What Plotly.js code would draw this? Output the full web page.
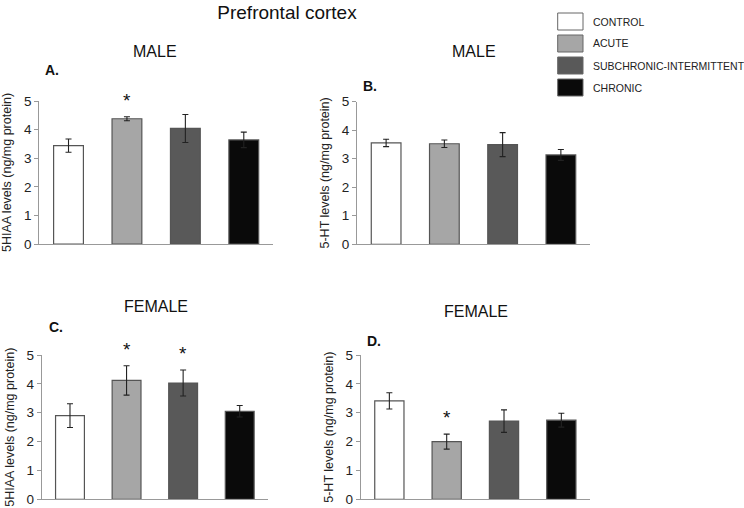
<!DOCTYPE html>
<html>
<head>
<meta charset="utf-8">
<script src="https://cdn.plot.ly/plotly-3.0.1.min.js"></script>
<style>html,body{margin:0;padding:0;background:#fff;}#chart{width:744px;height:508px;}</style>
</head>
<body>
<div id="chart"></div>
<script>
// ---- data ----
const categories = ['CONTROL', 'ACUTE', 'SUBCHRONIC-INTERMITTENT', 'CHRONIC'];
const barColors = ['#ffffff', '#a6a6a6', '#595959', '#0a0a0a'];

const maleHIAA = [3.44, 4.38, 4.04, 3.64];
const maleHIAAErr = [0.23, 0.07, 0.49, 0.27];
const maleHIAASig = [false, true, false, false];

const maleHT = [3.55, 3.52, 3.49, 3.13];
const maleHTErr = [0.13, 0.13, 0.42, 0.19];
const maleHTSig = [false, false, false, false];

const femaleHIAA = [2.90, 4.12, 4.03, 3.05];
const femaleHIAAErr = [0.41, 0.51, 0.45, 0.20];
const femaleHIAASig = [false, true, true, false];

const femaleHT = [3.41, 2.00, 2.71, 2.74];
const femaleHTErr = [0.28, 0.26, 0.39, 0.24];
const femaleHTSig = [false, true, false, false];

const yTitleHIAA = '5HIAA levels (ng/mg protein)';
const yTitleHT = '5-HT levels (ng/mg protein)';
const mainTitle = 'Prefrontal cortex';

// ---- layout helpers ----
const W = 744, H = 508;
const px = v => v / W;
const py = v => 1 - v / H;

const panels = [
  {vals: maleHIAA, err: maleHIAAErr, sig: maleHIAASig, ax: '', xd: [39.3, 273], yd: [244, 101], ytitle: yTitleHIAA,
   head: 'MALE', headPos: [155, 51], letter: 'A.', letterPos: [52, 70]},
  {vals: maleHT, err: maleHTErr, sig: maleHTSig, ax: '2', xd: [357, 590], yd: [244.3, 101.5], ytitle: yTitleHT,
   head: 'MALE', headPos: [474, 51], letter: 'B.', letterPos: [370, 86]},
  {vals: femaleHIAA, err: femaleHIAAErr, sig: femaleHIAASig, ax: '3', xd: [41.7, 268], yd: [499.3, 355], ytitle: yTitleHIAA,
   head: 'FEMALE', headPos: [156, 306], letter: 'C.', letterPos: [56, 327]},
  {vals: femaleHT, err: femaleHTErr, sig: femaleHTSig, ax: '4', xd: [360.7, 590], yd: [499.3, 355], ytitle: yTitleHT,
   head: 'FEMALE', headPos: [476, 311], letter: 'D.', letterPos: [374, 341]}
];

const fontFam = 'Liberation Sans, Arial, sans-serif';
const data = [];
const annotations = [];
const shapes = [];
const layout = {
  width: W, height: H,
  margin: {l: 0, r: 0, t: 0, b: 0},
  paper_bgcolor: '#ffffff', plot_bgcolor: '#ffffff',
  showlegend: false,
  bargap: 0.49,
  font: {family: fontFam, color: '#222'},
  title: {text: mainTitle, x: px(287), y: py(12), xanchor: 'center', yanchor: 'middle',
          font: {family: fontFam, size: 19, color: '#111'}}
};

panels.forEach(p => {
  data.push({
    type: 'bar',
    x: categories,
    y: p.vals,
    xaxis: 'x' + p.ax, yaxis: 'y' + p.ax,
    marker: {color: barColors, line: {color: '#555', width: 1.2}},
    error_y: {type: 'data', array: p.err, visible: true, color: '#222', thickness: 1.1, width: 3},
    hoverinfo: 'x+y'
  });
  layout['xaxis' + p.ax] = {
    domain: [px(p.xd[0]), px(p.xd[1])],
    anchor: 'y' + p.ax,
    showline: true, linecolor: '#999', linewidth: 1,
    showticklabels: false, ticks: '', showgrid: false, zeroline: false,
    range: [-0.5, 3.5]
  };
  layout['yaxis' + p.ax] = {
    domain: [py(p.yd[0]), py(p.yd[1])],
    anchor: 'x' + p.ax,
    range: [0, 5], dtick: 1, tick0: 0,
    showline: true, linecolor: '#999', linewidth: 1,
    ticks: 'outside', ticklen: 4, tickcolor: '#999',
    tickfont: {family: fontFam, size: 13.5, color: '#222'},
    showgrid: false, zeroline: false,
    title: {text: p.ytitle, font: {family: fontFam, size: 12.5, color: '#222'}, standoff: 9}
  };
  annotations.push({xref: 'paper', yref: 'paper', x: px(p.headPos[0]), y: py(p.headPos[1]),
    xanchor: 'center', yanchor: 'middle', showarrow: false, text: p.head,
    font: {family: fontFam, size: 16, color: '#111'}});
  annotations.push({xref: 'paper', yref: 'paper', x: px(p.letterPos[0]), y: py(p.letterPos[1]),
    xanchor: 'center', yanchor: 'middle', showarrow: false, text: '<b>' + p.letter + '</b>',
    font: {family: fontFam, size: 14, color: '#111'}});
  p.sig.forEach((s, i) => {
    if (s) {
      annotations.push({xref: 'x' + p.ax, yref: 'y' + p.ax, x: categories[i], y: p.vals[i] + p.err[i],
        xanchor: 'center', yanchor: 'bottom', yshift: 4, showarrow: false, text: '*',
        font: {family: fontFam, size: 19, color: '#111'}});
    }
  });
});

// custom legend
categories.forEach((c, i) => {
  const top = 13 + i * 22;
  shapes.push({type: 'rect', xref: 'paper', yref: 'paper',
    x0: px(557.7), x1: px(583), y0: py(top + 17), y1: py(top),
    fillcolor: barColors[i], line: {color: '#666', width: 1}});
  annotations.push({xref: 'paper', yref: 'paper', x: px(591), y: py(top + 8.5),
    xanchor: 'left', yanchor: 'middle', showarrow: false, text: c,
    font: {family: fontFam, size: 10.5, color: '#222'}});
});

layout.annotations = annotations;
layout.shapes = shapes;

Plotly.newPlot('chart', data, layout, {displayModeBar: false, staticPlot: true});
</script>
</body>
</html>
